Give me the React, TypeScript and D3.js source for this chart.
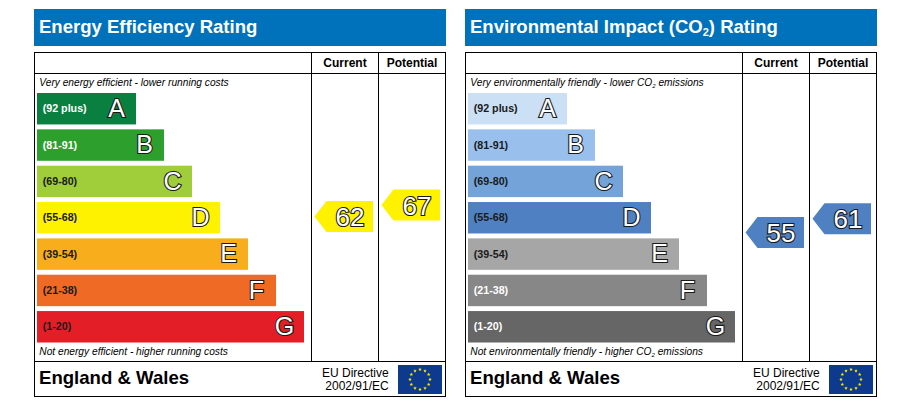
import React from "react";
import * as d3 from "d3";

const letters = ["A", "B", "C", "D", "E", "F", "G"];
const ranges = ["(92 plus)", "(81-91)", "(69-80)", "(55-68)", "(39-54)", "(21-38)", "(1-20)"];
const barLengths = [1, 2, 3, 4, 5, 6, 7];
const energyColors = ["#0a8040", "#2c9f2c", "#a0cd3a", "#fff200", "#f8ae1c", "#ef6a25", "#e41e26"];
const co2Colors = ["#cbe0f5", "#99c0ec", "#73a3d8", "#4f81c2", "#a6a6a6", "#878787", "#666666"];
const energyLabelInk = ["#fff", "#fff", "#1a1a1a", "#1a1a1a", "#1a1a1a", "#1a1a1a", "#1a1a1a"];
const co2LabelInk = ["#1a1a1a", "#1a1a1a", "#1a1a1a", "#1a1a1a", "#1a1a1a", "#fff", "#fff"];
const energyScores = { current: 62, potential: 67 };
const co2Scores = { current: 55, potential: 61 };

const FONT = "'Liberation Sans', Arial, sans-serif";
const flagStars = d3.range(12);

const yBand = d3.scaleBand<string>().domain(letters).range([93, 342.5]).paddingInner(0.135).paddingOuter(0);
const widthScale = d3.scaleLinear().domain([1, 7]).range([99, 267]);
const scoreY = d3.scaleLinear().domain([62, 67]).range([216.5, 205]);

function starPath(cx: number, cy: number, r: number) {
  const pts: [number, number][] = d3.range(10).map((i) => {
    const a = (i * Math.PI) / 5 - Math.PI / 2;
    const rr = i % 2 ? r * 0.42 : r;
    return [cx + rr * Math.cos(a), cy + rr * Math.sin(a)];
  });
  return d3.line()(pts) + "Z";
}

function Arrow({ x, score, color }: { x: number; score: number; color: string }) {
  const cy = scoreY(score);
  const h = 15.5;
  const path = d3.line()([
    [x - 0.5, cy],
    [x + 11.5, cy - h],
    [x + 58, cy - h],
    [x + 58, cy + h],
    [x + 11.5, cy + h],
  ]) + "Z";
  return (
    <g>
      <path d={path} fill={color} />
      <text
        x={x + 35}
        y={cy + 9.5}
        textAnchor="middle"
        fontFamily={FONT}
        fontSize={26}
        fill="#fff"
        stroke="#1a1a1a"
        strokeWidth={2.2}
        paintOrder="stroke"
      >
        {score}
      </text>
    </g>
  );
}

function Panel({
  dx,
  title,
  colors,
  labelInk,
  arrowColor,
  scores,
  top,
  bottom,
}: {
  dx: number;
  title: React.ReactNode;
  colors: string[];
  labelInk: string[];
  arrowColor: string;
  scores: { current: number; potential: number };
  top: React.ReactNode;
  bottom: React.ReactNode;
}) {
  return (
    <g transform={`translate(${dx},0)`} fontFamily={FONT}>
      <rect x={34} y={9} width={412} height={37} fill="#0072bc" />
      <text x={39} y={32.5} fontSize={18.55} fontWeight="bold" fill="#fff">
        {title}
      </text>
      <g stroke="#000" strokeWidth={1} fill="none">
        <rect x={34.5} y={52.5} width={411} height={344} />
        <line x1={34.5} x2={445.5} y1={73.5} y2={73.5} />
        <line x1={34.5} x2={445.5} y1={361.5} y2={361.5} />
        <line x1={311.5} x2={311.5} y1={52.5} y2={361.5} />
        <line x1={378.5} x2={378.5} y1={52.5} y2={361.5} />
      </g>
      <text x={345} y={67} textAnchor="middle" fontSize={12} fontWeight="bold">Current</text>
      <text x={412} y={67} textAnchor="middle" fontSize={12} fontWeight="bold">Potential</text>
      <text x={39.3} y={86} fontSize={10.2} fontStyle="italic">{top}</text>
      {letters.map((l, i) => {
        const y = yBand(l)!;
        const w = widthScale(barLengths[i]);
        const bh = yBand.bandwidth();
        return (
          <g key={l}>
            <rect x={37} y={y} width={w} height={bh} fill={colors[i]} />
            <text x={42.7} y={y + bh / 2 + 3.7} fontSize={10.7} fontWeight="bold" fill={labelInk[i]}>
              {ranges[i]}
            </text>
            <text
              x={37 + w - 19.5}
              y={y + bh / 2 + 8.3}
              textAnchor="middle"
              fontSize={25}
              fill="#fff"
              stroke="#1a1a1a"
              strokeWidth={2.2}
              paintOrder="stroke"
            >
              {l}
            </text>
          </g>
        );
      })}
      <text x={39.3} y={355} fontSize={10.2} fontStyle="italic">{bottom}</text>
      <Arrow x={315} score={scores.current} color={arrowColor} />
      <Arrow x={382} score={scores.potential} color={arrowColor} />
      <text x={39} y={383.5} fontSize={18.6} fontWeight="bold">England &amp; Wales</text>
      <text x={388.7} y={377} textAnchor="end" fontSize={12}>EU Directive</text>
      <text x={388.7} y={390} textAnchor="end" fontSize={12}>2002/91/EC</text>
      <rect x={398} y={365} width={44} height={29} fill="#0d3a8c" />
      {flagStars.map((i) => {
        const a = (i * Math.PI) / 6;
        return (
          <path
            key={i}
            d={starPath(420 + 10 * Math.sin(a), 379.5 - 10 * Math.cos(a), 1.9)}
            fill="#ffe600"
          />
        );
      })}
    </g>
  );
}

function Co2Text({ before, after, drop, size }: { before: string; after: string; drop: number; size: number }) {
  return (
    <>
      {before}
      <tspan dy={drop} fontSize={size}>2</tspan>
      <tspan dy={-drop}>{after}</tspan>
    </>
  );
}

export default function App() {
  return (
    <svg
      width={905}
      height={404}
      viewBox="0 0 905 404"
      style={{ position: "absolute", left: 0, top: 0, display: "block", background: "#fff" }}
    >
      <Panel
        dx={0}
        title="Energy Efficiency Rating"
        colors={energyColors}
        labelInk={energyLabelInk}
        arrowColor="#fff200"
        scores={energyScores}
        top="Very energy efficient - lower running costs"
        bottom="Not energy efficient - higher running costs"
      />
      <Panel
        dx={431}
        title={<Co2Text before="Environmental Impact (CO" after=") Rating" drop={3} size={11} />}
        colors={co2Colors}
        labelInk={co2LabelInk}
        arrowColor="#4f81c2"
        scores={co2Scores}
        top={<Co2Text before="Very environmentally friendly - lower CO" after=" emissions" drop={1.5} size={6} />}
        bottom={<Co2Text before="Not environmentally friendly - higher CO" after=" emissions" drop={1.5} size={6} />}
      />
    </svg>
  );
}
